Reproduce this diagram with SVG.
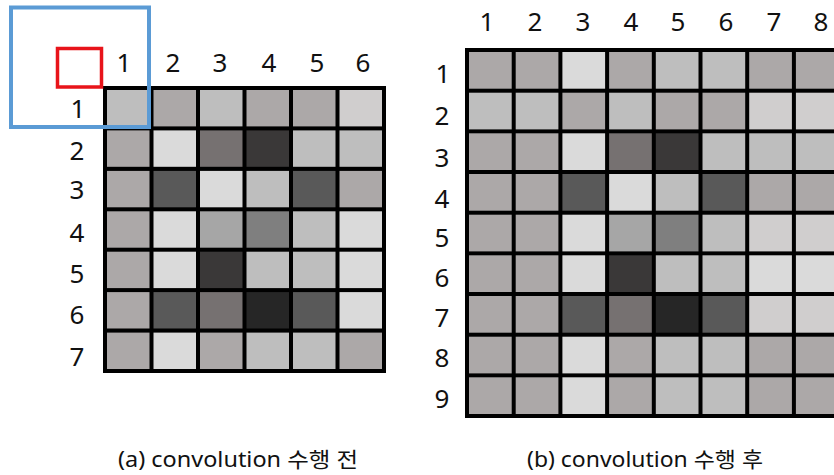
<svg xmlns="http://www.w3.org/2000/svg" width="834" height="475" viewBox="0 0 834 475">
<style>
.lbl{font-family:"Noto Sans","Noto Sans CJK KR",sans-serif;font-size:26px;fill:#111;text-anchor:middle}
.cap{font-family:"Noto Sans","Noto Sans CJK KR",sans-serif;font-size:21px;fill:#111}
.a{fill:#aca8a8}.b{fill:#bebebe}.c{fill:#dadada}.d{fill:#d0cece}.e{fill:#767171}.f{fill:#3a3838}.g{fill:#595959}.h{fill:#a6a6a6}.i{fill:#7f7f7f}.j{fill:#262626}
</style>
<rect width="834" height="475" fill="#fff"/>
<g id="gridA">
<rect x="103" y="86" width="283" height="287" fill="#000"/>
<g id="gridA-cells">
<rect class="b" x="107" y="90" width="42.5" height="36.4"/><rect class="a" x="153.5" y="90" width="42.5" height="36.4"/><rect class="b" x="200" y="90" width="42.5" height="36.4"/><rect class="a" x="246.5" y="90" width="42.5" height="36.4"/><rect class="a" x="293" y="90" width="42.5" height="36.4"/><rect class="d" x="339.5" y="90" width="42.5" height="36.4"/>
<rect class="a" x="107" y="130.4" width="42.5" height="36.4"/><rect class="c" x="153.5" y="130.4" width="42.5" height="36.4"/><rect class="e" x="200" y="130.4" width="42.5" height="36.4"/><rect class="f" x="246.5" y="130.4" width="42.5" height="36.4"/><rect class="b" x="293" y="130.4" width="42.5" height="36.4"/><rect class="b" x="339.5" y="130.4" width="42.5" height="36.4"/>
<rect class="a" x="107" y="170.9" width="42.5" height="36.4"/><rect class="g" x="153.5" y="170.9" width="42.5" height="36.4"/><rect class="c" x="200" y="170.9" width="42.5" height="36.4"/><rect class="b" x="246.5" y="170.9" width="42.5" height="36.4"/><rect class="g" x="293" y="170.9" width="42.5" height="36.4"/><rect class="a" x="339.5" y="170.9" width="42.5" height="36.4"/>
<rect class="a" x="107" y="211.3" width="42.5" height="36.4"/><rect class="c" x="153.5" y="211.3" width="42.5" height="36.4"/><rect class="h" x="200" y="211.3" width="42.5" height="36.4"/><rect class="i" x="246.5" y="211.3" width="42.5" height="36.4"/><rect class="b" x="293" y="211.3" width="42.5" height="36.4"/><rect class="c" x="339.5" y="211.3" width="42.5" height="36.4"/>
<rect class="a" x="107" y="251.7" width="42.5" height="36.4"/><rect class="c" x="153.5" y="251.7" width="42.5" height="36.4"/><rect class="f" x="200" y="251.7" width="42.5" height="36.4"/><rect class="b" x="246.5" y="251.7" width="42.5" height="36.4"/><rect class="b" x="293" y="251.7" width="42.5" height="36.4"/><rect class="c" x="339.5" y="251.7" width="42.5" height="36.4"/>
<rect class="a" x="107" y="292.1" width="42.5" height="36.4"/><rect class="g" x="153.5" y="292.1" width="42.5" height="36.4"/><rect class="e" x="200" y="292.1" width="42.5" height="36.4"/><rect class="j" x="246.5" y="292.1" width="42.5" height="36.4"/><rect class="g" x="293" y="292.1" width="42.5" height="36.4"/><rect class="c" x="339.5" y="292.1" width="42.5" height="36.4"/>
<rect class="a" x="107" y="332.6" width="42.5" height="36.4"/><rect class="c" x="153.5" y="332.6" width="42.5" height="36.4"/><rect class="a" x="200" y="332.6" width="42.5" height="36.4"/><rect class="b" x="246.5" y="332.6" width="42.5" height="36.4"/><rect class="b" x="293" y="332.6" width="42.5" height="36.4"/><rect class="a" x="339.5" y="332.6" width="42.5" height="36.4"/>
</g>
<g id="gridA-labels">
<text class="lbl" x="124" y="72">1</text><text class="lbl" x="173" y="72">2</text><text class="lbl" x="220" y="72">3</text><text class="lbl" x="269" y="72">4</text><text class="lbl" x="317" y="72">5</text><text class="lbl" x="363" y="72">6</text>
<text class="lbl" x="78" y="118">1</text><text class="lbl" x="77" y="160">2</text><text class="lbl" x="77" y="199">3</text><text class="lbl" x="77" y="242">4</text><text class="lbl" x="77" y="283">5</text><text class="lbl" x="77" y="324">6</text><text class="lbl" x="77" y="366">7</text>
</g>
</g>
<g id="kernel">
<rect x="11" y="7.5" width="138" height="119.5" fill="none" stroke="#5b9bd5" stroke-width="4"/>
</g>
<g id="pad">
<rect x="57.5" y="48.5" width="44" height="38.5" fill="none" stroke="#e8141a" stroke-width="3.5"/>
</g>
<g id="gridB">
<rect x="465" y="48" width="380" height="370" fill="#000"/>
<g id="gridB-cells">
<rect class="a" x="469" y="52" width="42.7" height="36.7"/><rect class="a" x="515.7" y="52" width="42.7" height="36.7"/><rect class="c" x="562.4" y="52" width="42.7" height="36.7"/><rect class="a" x="609.1" y="52" width="42.7" height="36.7"/><rect class="b" x="655.8" y="52" width="42.7" height="36.7"/><rect class="b" x="702.5" y="52" width="42.7" height="36.7"/><rect class="a" x="749.2" y="52" width="42.7" height="36.7"/><rect class="a" x="795.9" y="52" width="50" height="36.7"/>
<rect class="b" x="469" y="92.7" width="42.7" height="36.7"/><rect class="b" x="515.7" y="92.7" width="42.7" height="36.7"/><rect class="a" x="562.4" y="92.7" width="42.7" height="36.7"/><rect class="b" x="609.1" y="92.7" width="42.7" height="36.7"/><rect class="a" x="655.8" y="92.7" width="42.7" height="36.7"/><rect class="a" x="702.5" y="92.7" width="42.7" height="36.7"/><rect class="d" x="749.2" y="92.7" width="42.7" height="36.7"/><rect class="d" x="795.9" y="92.7" width="50" height="36.7"/>
<rect class="a" x="469" y="133.3" width="42.7" height="36.7"/><rect class="a" x="515.7" y="133.3" width="42.7" height="36.7"/><rect class="c" x="562.4" y="133.3" width="42.7" height="36.7"/><rect class="e" x="609.1" y="133.3" width="42.7" height="36.7"/><rect class="f" x="655.8" y="133.3" width="42.7" height="36.7"/><rect class="b" x="702.5" y="133.3" width="42.7" height="36.7"/><rect class="b" x="749.2" y="133.3" width="42.7" height="36.7"/><rect class="b" x="795.9" y="133.3" width="50" height="36.7"/>
<rect class="a" x="469" y="174" width="42.7" height="36.7"/><rect class="a" x="515.7" y="174" width="42.7" height="36.7"/><rect class="g" x="562.4" y="174" width="42.7" height="36.7"/><rect class="c" x="609.1" y="174" width="42.7" height="36.7"/><rect class="b" x="655.8" y="174" width="42.7" height="36.7"/><rect class="g" x="702.5" y="174" width="42.7" height="36.7"/><rect class="a" x="749.2" y="174" width="42.7" height="36.7"/><rect class="a" x="795.9" y="174" width="50" height="36.7"/>
<rect class="a" x="469" y="214.7" width="42.7" height="36.7"/><rect class="a" x="515.7" y="214.7" width="42.7" height="36.7"/><rect class="c" x="562.4" y="214.7" width="42.7" height="36.7"/><rect class="h" x="609.1" y="214.7" width="42.7" height="36.7"/><rect class="i" x="655.8" y="214.7" width="42.7" height="36.7"/><rect class="b" x="702.5" y="214.7" width="42.7" height="36.7"/><rect class="d" x="749.2" y="214.7" width="42.7" height="36.7"/><rect class="d" x="795.9" y="214.7" width="50" height="36.7"/>
<rect class="a" x="469" y="255.3" width="42.7" height="36.7"/><rect class="a" x="515.7" y="255.3" width="42.7" height="36.7"/><rect class="c" x="562.4" y="255.3" width="42.7" height="36.7"/><rect class="f" x="609.1" y="255.3" width="42.7" height="36.7"/><rect class="b" x="655.8" y="255.3" width="42.7" height="36.7"/><rect class="b" x="702.5" y="255.3" width="42.7" height="36.7"/><rect class="c" x="749.2" y="255.3" width="42.7" height="36.7"/><rect class="c" x="795.9" y="255.3" width="50" height="36.7"/>
<rect class="a" x="469" y="296" width="42.7" height="36.7"/><rect class="a" x="515.7" y="296" width="42.7" height="36.7"/><rect class="g" x="562.4" y="296" width="42.7" height="36.7"/><rect class="e" x="609.1" y="296" width="42.7" height="36.7"/><rect class="j" x="655.8" y="296" width="42.7" height="36.7"/><rect class="g" x="702.5" y="296" width="42.7" height="36.7"/><rect class="d" x="749.2" y="296" width="42.7" height="36.7"/><rect class="d" x="795.9" y="296" width="50" height="36.7"/>
<rect class="a" x="469" y="336.7" width="42.7" height="36.7"/><rect class="a" x="515.7" y="336.7" width="42.7" height="36.7"/><rect class="c" x="562.4" y="336.7" width="42.7" height="36.7"/><rect class="a" x="609.1" y="336.7" width="42.7" height="36.7"/><rect class="b" x="655.8" y="336.7" width="42.7" height="36.7"/><rect class="b" x="702.5" y="336.7" width="42.7" height="36.7"/><rect class="a" x="749.2" y="336.7" width="42.7" height="36.7"/><rect class="a" x="795.9" y="336.7" width="50" height="36.7"/>
<rect class="a" x="469" y="377.3" width="42.7" height="36.7"/><rect class="a" x="515.7" y="377.3" width="42.7" height="36.7"/><rect class="c" x="562.4" y="377.3" width="42.7" height="36.7"/><rect class="a" x="609.1" y="377.3" width="42.7" height="36.7"/><rect class="b" x="655.8" y="377.3" width="42.7" height="36.7"/><rect class="b" x="702.5" y="377.3" width="42.7" height="36.7"/><rect class="a" x="749.2" y="377.3" width="42.7" height="36.7"/><rect class="a" x="795.9" y="377.3" width="50" height="36.7"/>
</g>
<g id="gridB-labels">
<text class="lbl" x="487" y="31">1</text><text class="lbl" x="535" y="31">2</text><text class="lbl" x="583" y="31">3</text><text class="lbl" x="631" y="31">4</text><text class="lbl" x="678" y="31">5</text><text class="lbl" x="726" y="31">6</text><text class="lbl" x="774" y="31">7</text><text class="lbl" x="821" y="31">8</text>
<text class="lbl" x="443" y="83">1</text><text class="lbl" x="442" y="125">2</text><text class="lbl" x="442" y="167">3</text><text class="lbl" x="442" y="208">4</text><text class="lbl" x="442" y="247">5</text><text class="lbl" x="442" y="287">6</text><text class="lbl" x="442" y="327">7</text><text class="lbl" x="442" y="367">8</text><text class="lbl" x="442" y="408">9</text>
</g>
</g>
<g id="captions">
<text class="cap" x="118" y="467" textLength="240" lengthAdjust="spacingAndGlyphs">(a) convolution 수행 전</text>
<text class="cap" x="527" y="467" textLength="236" lengthAdjust="spacingAndGlyphs">(b) convolution 수행 후</text>
</g>
</svg>
